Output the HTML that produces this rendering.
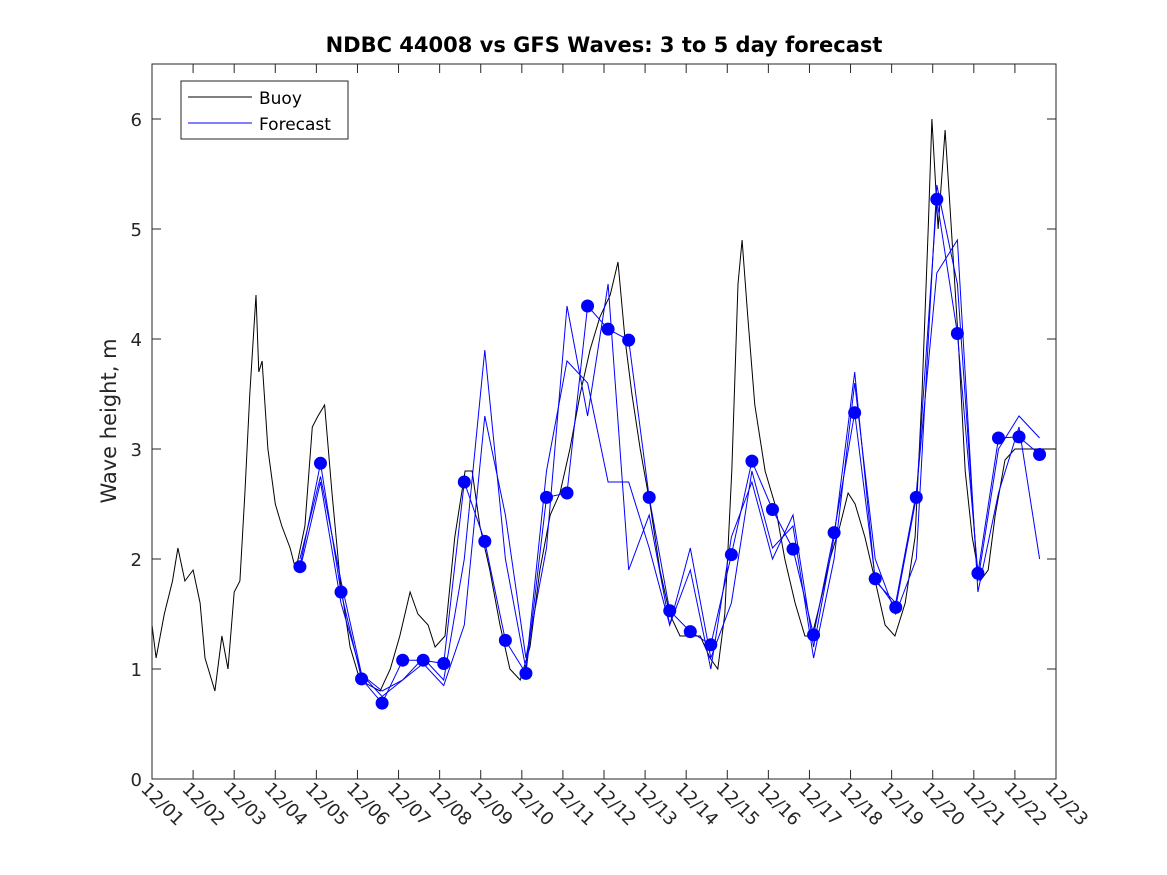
<!DOCTYPE html>
<html><head><meta charset="utf-8"><style>
body{margin:0;background:#fff}
svg{display:block;font-family:"DejaVu Sans","Liberation Sans",sans-serif}
</style></head><body>
<svg id="chart" width="1167" height="875" viewBox="0 0 1167 875">
<rect x="0" y="0" width="1167" height="875" fill="#fff"/>
<text x="604" y="52" text-anchor="middle" font-size="21" font-weight="bold" fill="#000">NDBC 44008 vs GFS Waves: 3 to 5 day forecast</text>
<text transform="translate(116,421) rotate(-90)" text-anchor="middle" font-size="21" fill="#262626">Wave height, m</text>
<g id="axes"></g>
<g id="series"></g>
<rect x="152" y="64" width="904" height="715" fill="none" stroke="#262626" stroke-width="1"/>
<g>
<rect x="181" y="81" width="167" height="58" fill="#fff" stroke="#262626" stroke-width="1"/>
<line x1="188" y1="97" x2="252" y2="97" stroke="#000"/>
<text x="259" y="104" font-size="17" fill="#000">Buoy</text>
<line x1="188" y1="123" x2="252" y2="123" stroke="#00f"/>
<text x="259" y="130" font-size="17" fill="#000">Forecast</text>
</g>
</svg>
<script>
const yTicks=[0,1,2,3,4,5,6];
const xTickLabels=["12/01","12/02","12/03","12/04","12/05","12/06","12/07","12/08","12/09","12/10","12/11","12/12","12/13","12/14","12/15","12/16","12/17","12/18","12/19","12/20","12/21","12/22","12/23"];
const buoyDays=[0,0.1,0.3,0.5,0.63,0.8,1.0,1.17,1.29,1.53,1.7,1.85,2.0,2.14,2.26,2.38,2.53,2.6,2.68,2.82,3.0,3.16,3.36,3.5,3.72,3.9,4.04,4.2,4.38,4.58,4.82,5.06,5.3,5.55,5.8,6.03,6.28,6.47,6.72,6.89,7.13,7.37,7.62,7.79,7.98,8.22,8.47,8.71,8.96,9.2,9.44,9.69,9.93,10.17,10.42,10.66,10.9,11.15,11.34,11.51,11.68,11.88,12.12,12.36,12.6,12.85,13.09,13.34,13.58,13.77,13.94,14.11,14.26,14.36,14.5,14.67,14.92,15.16,15.4,15.65,15.89,16.06,16.26,16.5,16.74,16.94,17.11,17.35,17.6,17.84,18.08,18.33,18.57,18.74,18.89,18.98,19.13,19.3,19.42,19.62,19.79,19.96,20.15,20.35,20.52,20.76,21.0,21.25,21.49,21.73,22.0];
const buoyValues=[1.4,1.1,1.5,1.8,2.1,1.8,1.9,1.6,1.1,0.8,1.3,1.0,1.7,1.8,2.6,3.5,4.4,3.7,3.8,3.0,2.5,2.3,2.1,1.9,2.3,3.2,3.3,3.4,2.6,1.8,1.2,0.9,0.85,0.8,1.0,1.3,1.7,1.5,1.4,1.2,1.3,2.2,2.8,2.8,2.3,1.9,1.4,1.0,0.9,1.2,1.9,2.4,2.6,3.0,3.5,3.9,4.2,4.4,4.7,4.0,3.5,3.0,2.5,1.9,1.5,1.3,1.3,1.3,1.1,1.0,1.5,2.8,4.5,4.9,4.2,3.4,2.8,2.5,2.0,1.6,1.3,1.3,1.6,2.0,2.3,2.6,2.5,2.2,1.8,1.4,1.3,1.6,2.2,3.5,5.0,6.0,5.0,5.9,5.2,4.0,2.8,2.2,1.8,1.9,2.4,2.9,3.0,3.0,3.0,3.0,3.0];
const fcStartDay=3.6, fcStep=0.5;
const forecastValues=[1.93,2.87,1.7,0.91,0.69,1.08,1.08,1.05,2.7,2.16,1.26,0.96,2.56,2.6,4.3,4.09,3.99,2.56,1.53,1.34,1.22,2.04,2.89,2.45,2.09,1.31,2.24,3.33,1.82,1.56,2.56,5.27,4.05,1.87,3.1,3.11,2.95];
const run2Values=[1.9,2.7,1.6,0.95,0.8,0.9,1.1,0.9,2.0,3.9,2.0,1.0,2.8,3.8,3.6,2.7,2.7,2.1,1.4,2.1,1.1,1.6,2.8,2.1,2.3,1.1,2.0,3.6,2.0,1.5,2.0,5.4,4.5,1.8,3.0,3.3,3.1];
const run3Values=[2.0,2.75,1.8,0.95,0.75,0.9,1.05,0.85,1.4,3.3,2.4,1.1,2.1,4.3,3.3,4.5,1.9,2.4,1.4,1.9,1.0,2.2,2.7,2.0,2.4,1.2,2.2,3.7,1.8,1.6,2.6,4.6,4.9,1.7,2.6,3.2,2.0];

const L=152,R=1056,T=64,B=779;
const xS=d=>L+d*(R-L)/22;
const yS=v=>B-v*(B-T)/6.5;
const NS="http://www.w3.org/2000/svg";
const axes=document.getElementById('axes'), series=document.getElementById('series');
function mk(tag,attrs,parent){const e=document.createElementNS(NS,tag);for(const k in attrs)e.setAttribute(k,attrs[k]);parent.appendChild(e);return e;}
yTicks.forEach(v=>{
  const y=yS(v);
  const t1=mk('line',{x1:L,y1:y,x2:L+9,y2:y,stroke:'#262626'},axes);
  
  
  mk('line',{x1:R,y1:y,x2:R-9,y2:y,stroke:'#262626'},axes);
  const tx=mk('text',{x:L-10,y:y+7,'text-anchor':'end','font-size':18,fill:'#262626'},axes);
  tx.textContent=v;
  
  
});
xTickLabels.forEach((lab,i)=>{
  const x=xS(i);
  const t1=mk('line',{x1:x,y1:B,x2:x,y2:B-9,stroke:'#262626'},axes);
  
  
  mk('line',{x1:x,y1:T,x2:x,y2:T+9,stroke:'#262626'},axes);
  const tx=mk('text',{transform:`translate(${x-12},${B+11}) rotate(45)`,'font-size':18,fill:'#262626'},axes);
  tx.textContent=lab;
  
  
});
function linePath(days,vals){return vals.map((v,i)=>(i?'L':'M')+xS(days[i]).toFixed(1)+','+yS(v).toFixed(1)).join('');}
const fcDays=forecastValues.map((_,i)=>fcStartDay+i*fcStep);
const b=mk('path',{d:linePath(buoyDays,buoyValues),fill:'none',stroke:'#000','stroke-width':1},series);


[run2Values,run3Values].forEach(vals=>{
  const p=mk('path',{d:linePath(fcDays,vals),fill:'none',stroke:'#00f','stroke-width':1},series);
  
  
});
const f=mk('path',{d:linePath(fcDays,forecastValues),fill:'none',stroke:'#00f','stroke-width':1},series);


forecastValues.forEach((v,i)=>{
  const c=mk('circle',{cx:xS(fcDays[i]),cy:yS(v),r:6.5,fill:'#00f'},series);
  
  
});
</script>
</body></html>
